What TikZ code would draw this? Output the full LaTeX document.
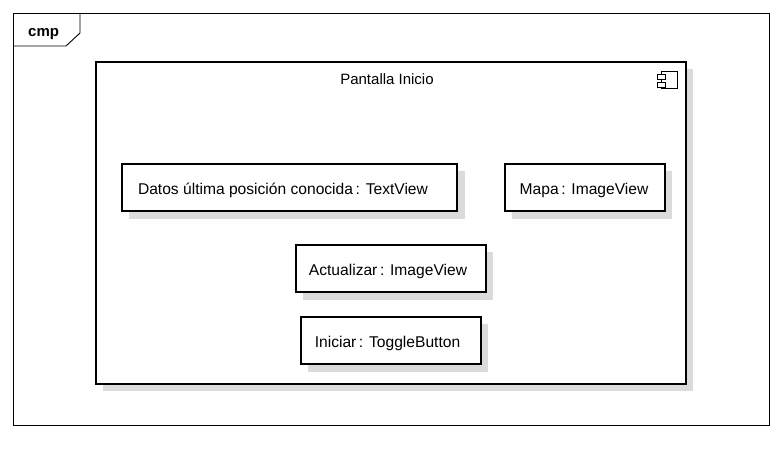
\documentclass[tikz,border=0pt]{standalone}
\usepackage{fontspec}
\setmainfont{Liberation Sans}
\newcommand{\ptxt}[2]{\raisebox{-2.5pt}[\height][\depth]{#2\hspace{#1pt}}}
\begin{document}
\begin{tikzpicture}[x=1pt,y=-1pt,
  part/.style={draw=black,line width=2.5pt,fill=white,rectangle,inner sep=0pt,font=\fontsize{15.6}{17}\selectfont},
  shadowbox/.style={fill=black!14,draw=none},
  thinline/.style={draw=black,line width=0.9pt}]
\useasboundingbox (0,0) rectangle (782,465);
\fill[white] (0,0) rectangle (782,465);
% frame
\draw[thinline] (13,13) rectangle (769,425);
\draw[thinline] (13,46) -- (66,46) -- (80,33) -- (80,13);
\node[font=\bfseries\fontsize{15}{17}\selectfont,anchor=base west,inner sep=0pt] (cmp) at (28,37) {cmp};
% outer component
\fill[shadowbox] (103,69) rectangle (693,391);
\draw[line width=2.5pt,fill=white] (96,62) rectangle (686,384);
\node[font=\fontsize{15}{17}\selectfont,anchor=base] (title) at (387,85) {Pantalla Inicio};
% component icon
\draw[line width=0.8pt,fill=white] (661,71) rectangle (677,88);
\draw[line width=0.8pt,fill=white] (657,74) rectangle (665,79);
\draw[line width=0.8pt,fill=white] (657,82) rectangle (665,87);
% parts
\fill[shadowbox] (129,171) rectangle (465,219);
\node[part,minimum width=335pt,minimum height=47pt] (datos) at (289.5,187.5) {\ptxt{13}{Datos última posición conocida\,: TextView}};
\fill[shadowbox] (512,171) rectangle (672,219);
\node[part,minimum width=160pt,minimum height=47pt] (mapa) at (585,187.5) {\ptxt{2}{Mapa\,: ImageView}};
\fill[shadowbox] (303,252) rectangle (493,300);
\node[part,minimum width=190pt,minimum height=47pt] (act) at (391,268.5) {\ptxt{6}{Actualizar\,: ImageView}};
\fill[shadowbox] (308,324) rectangle (488,372);
\node[part,minimum width=180pt,minimum height=47pt] (ini) at (391,340.5) {\ptxt{7}{Iniciar\,: ToggleButton}};
\end{tikzpicture}
\end{document}
